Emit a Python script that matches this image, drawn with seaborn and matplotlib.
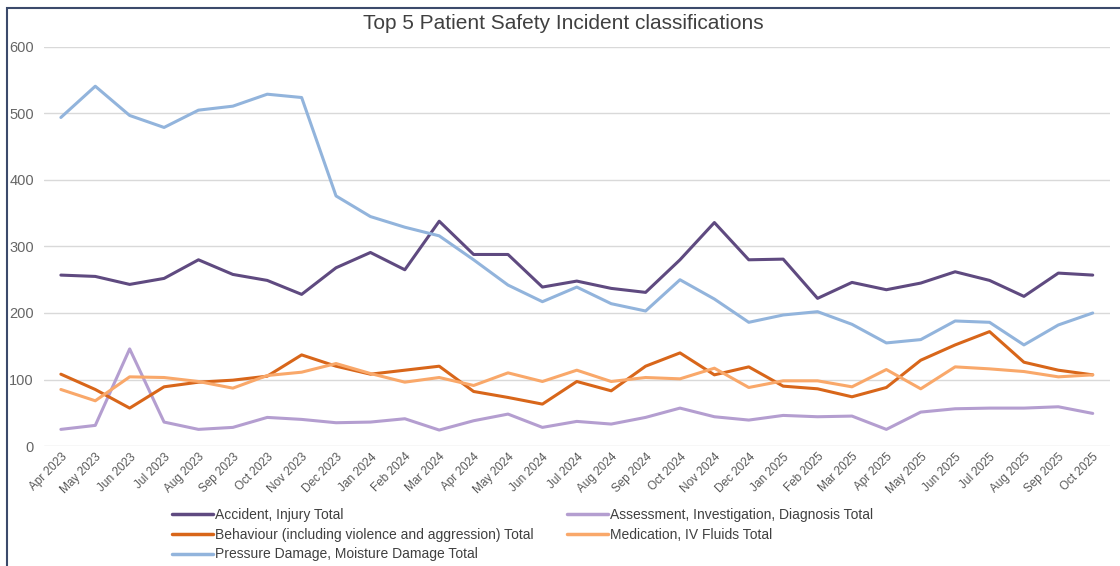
import pandas as pd
import matplotlib
matplotlib.use('Agg')
import matplotlib.pyplot as plt
import seaborn as sns

months = ['Apr 2023', 'May 2023', 'Jun 2023', 'Jul 2023', 'Aug 2023', 'Sep 2023', 'Oct 2023',
          'Nov 2023', 'Dec 2023', 'Jan 2024', 'Feb 2024', 'Mar 2024', 'Apr 2024', 'May 2024',
          'Jun 2024', 'Jul 2024', 'Aug 2024', 'Sep 2024', 'Oct 2024', 'Nov 2024', 'Dec 2024',
          'Jan 2025', 'Feb 2025', 'Mar 2025', 'Apr 2025', 'May 2025', 'Jun 2025', 'Jul 2025',
          'Aug 2025', 'Sep 2025', 'Oct 2025']

accident = [257, 255, 243, 252, 280, 258, 249, 228, 268, 291, 265, 338, 288, 288, 239, 248,
            237, 231, 280, 336, 280, 281, 222, 246, 235, 245, 262, 249, 225, 260, 257]
assessment = [25, 31, 146, 36, 25, 28, 43, 40, 35, 36, 41, 24, 38, 48, 28, 37,
              33, 43, 57, 44, 39, 46, 44, 45, 25, 51, 56, 57, 57, 59, 49]
behaviour = [108, 85, 57, 89, 96, 99, 105, 137, 120, 108, 114, 120, 82, 73, 63, 97,
             83, 120, 140, 107, 119, 90, 86, 74, 88, 129, 152, 172, 126, 114, 107]
medication = [85, 68, 104, 103, 97, 87, 106, 111, 124, 109, 96, 103, 91, 110, 97, 114,
              97, 103, 101, 117, 88, 98, 98, 89, 115, 86, 119, 116, 112, 104, 107]
pressure = [494, 541, 497, 479, 505, 511, 529, 524, 376, 345, 329, 316, 280, 242, 217, 239,
            214, 203, 250, 221, 186, 197, 202, 183, 155, 160, 188, 186, 152, 182, 200]

series_names = ['Accident, Injury Total',
                'Assessment, Investigation, Diagnosis Total',
                'Behaviour (including violence and aggression) Total',
                'Medication, IV Fluids Total',
                'Pressure Damage, Moisture Damage Total']
colors = ['#5f4a80', '#b49ed0', '#d8661a', '#f9a86a', '#92b4dc']

frames = []
for name, vals in zip(series_names, [accident, assessment, behaviour, medication, pressure]):
    frames.append(pd.DataFrame({'month': months, 'pos': range(len(months)),
                                'value': vals, 'series': name}))
df = pd.concat(frames, ignore_index=True)

sns.set_style('white')
plt.rcParams['font.family'] = ['Liberation Sans', 'DejaVu Sans']

fig = plt.figure(figsize=(11.2, 5.66), dpi=100)
ax = fig.add_axes([0.039, 0.212, 0.952, 0.705])

sns.lineplot(data=df, x='pos', y='value', hue='series', hue_order=series_names,
             palette=dict(zip(series_names, colors)), linewidth=2.2, ax=ax, legend=False)

ax.set_xlim(-0.5, len(months) - 0.5)
ax.set_ylim(0, 600)
ax.set_yticks(range(0, 601, 100))
ax.set_xticks(range(len(months)))
ax.set_xticklabels(months, rotation=45, ha='right', rotation_mode='anchor')
ax.tick_params(axis='x', length=0, labelsize=8.5, colors='#595959')
ax.tick_params(axis='y', length=0, labelsize=10.5, colors='#666666', pad=7)
ax.grid(axis='y', color='#d9d9d9', linewidth=1)
ax.set_axisbelow(True)
for s in ax.spines.values():
    s.set_visible(False)
ax.set_xlabel('')
ax.set_ylabel('')
fig.text(0.503, 0.958, 'Top 5 Patient Safety Incident classifications', fontsize=15,
         color='#404040', ha='center', va='center')

# legend filled row by row, like the original
handles = [plt.Line2D([], [], color=c, linewidth=2.5) for c in colors]
order = [0, 2, 4, 1, 3]
leg = fig.legend([handles[i] for i in order], [series_names[i] for i in order],
                 loc='upper left', bbox_to_anchor=(0.142, 0.125),
                 ncol=2, frameon=False, fontsize=10, handlelength=3.0, handletextpad=0.1,
                 columnspacing=2.4, labelspacing=0.42)
for t in leg.get_texts():
    t.set_color('#404040')

# chart frame
fig.patches.append(plt.Rectangle((0.006, -0.01), 1.2, 0.995, transform=fig.transFigure,
                                 fill=False, edgecolor='#3b4a6b', linewidth=1.5))

fig.savefig('out.png', dpi=100)
plt.close(fig)
